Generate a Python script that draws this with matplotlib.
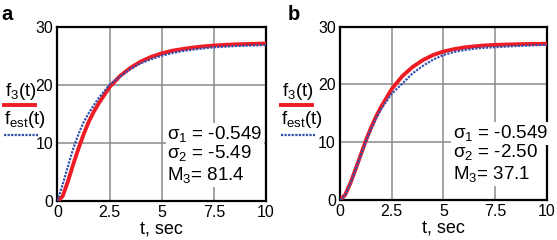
import matplotlib
matplotlib.use('Agg')
import matplotlib.pyplot as plt
from matplotlib.lines import Line2D

plt.rcParams['font.family'] = ['Liberation Sans', 'DejaVu Sans']
plt.rcParams['mathtext.fontset'] = 'custom'
plt.rcParams['mathtext.rm'] = 'Liberation Sans'

# time samples
t = [0, 0.25, 0.5, 0.75, 1.0, 1.25, 1.5, 1.75, 2.0, 2.5, 3.0, 3.5, 4.0, 4.5,
     5.0, 5.5, 6.0, 6.5, 7.0, 7.5, 8.0, 8.5, 9.0, 9.5, 10.0]

# panel a
f3_a = [0, 0.8, 3.3, 6.2, 8.9, 11.4, 13.6, 15.4, 16.9, 19.6, 21.5, 22.9, 24.0,
        24.8, 25.4, 25.85, 26.15, 26.4, 26.6, 26.75, 26.85, 26.95, 27.0, 27.05, 27.1]
fest_a = [0, 2.8, 5.9, 8.9, 11.4, 13.5, 15.1, 16.5, 17.8, 20.0, 21.4, 22.7, 23.7,
          24.4, 25.0, 25.45, 25.8, 26.05, 26.25, 26.45, 26.55, 26.65, 26.72, 26.78, 26.85]

# panel b
f3_b = [0, 0.9, 2.9, 5.3, 7.8, 10.3, 12.5, 14.5, 16.2, 19.2, 21.4, 23.0, 24.2,
        25.1, 25.7, 26.1, 26.4, 26.6, 26.75, 26.85, 26.9, 26.95, 27.0, 27.02, 27.05]
fest_b = [0, 0.8, 2.8, 5.2, 7.7, 10.1, 12.3, 14.2, 15.8, 18.4, 20.1, 21.9, 23.2,
          24.3, 25.1, 25.6, 25.95, 26.2, 26.35, 26.45, 26.55, 26.65, 26.72, 26.8, 26.85]

params_a = ['-0.549', '-5.49', '81.4']
params_b = ['-0.549', '-2.50', '37.1']

xticks = [0, 2.5, 5, 7.5, 10]
xticklabels = ['0', '2.5', '5', '7.5', '10']
yticks = [0, 10, 20, 30]

red = '#ee1c24'
blue = '#3050b0'

fig = plt.figure(figsize=(5.57, 2.40), dpi=100)

panels = [
    ([0.1030, 0.1625, 0.3745, 0.7265], f3_a, fest_a, params_a, 'a', 0.527, 0.0, 1),
    ([0.6104, 0.1667, 0.3716, 0.7222], f3_b, fest_b, params_b, 'b', 0.544, 277 / 557, 288),
]

for rect, f3, fest, pars, letter, tx, xoff, letter_x in panels:
    ax = fig.add_axes(rect)
    ax.plot(t, f3, color=red, linewidth=2.8, solid_capstyle='round', zorder=3)
    ax.plot(t, fest, color=blue, linewidth=1.6, linestyle=(0, (1, 0.6)), zorder=4)
    ax.set_xlim(0, 10)
    ax.set_ylim(0, 30)
    ax.set_xticks(xticks)
    ax.set_xticklabels(xticklabels)
    ax.set_yticks(yticks)
    ax.tick_params(length=0, labelsize=11.5, pad=3)
    ax.grid(True, color='#8a8a8a', linewidth=1.1)
    ax.set_axisbelow(True)
    for s in ax.spines.values():
        s.set_linewidth(1.6)
    ax.set_xlabel('t, sec', fontsize=13, labelpad=0)

    box = dict(facecolor='white', edgecolor='none', pad=1.0)
    ax.text(tx, 0.382, r'σ$_{\mathrm{1}}$ = ' + pars[0], transform=ax.transAxes,
            fontsize=13.5, va='center', ha='left', bbox=box, zorder=5)
    ax.text(tx, 0.27, r'σ$_{\mathrm{2}}$ = ' + pars[1], transform=ax.transAxes,
            fontsize=13.5, va='center', ha='left', bbox=box, zorder=5)
    ax.text(tx, 0.145, r'M$_{\mathrm{3}}$= ' + pars[2], transform=ax.transAxes,
            fontsize=13.5, va='center', ha='left', bbox=box, zorder=5)

    # panel letter and left-side legend
    fig.text(letter_x / 557, 1 - 14 / 240, letter, fontsize=14.5, fontweight='bold',
             va='center', ha='left')
    fig.text(xoff + 5 / 557, 1 - 91 / 240, r'f$_{\mathrm{3}}$(t)', fontsize=13.5,
             va='center', ha='left')
    fig.add_artist(Line2D([xoff + 4 / 557, xoff + 35 / 557], [1 - 105 / 240] * 2,
                          color=red, linewidth=2.8))
    fig.text(xoff + 4 / 557, 1 - 120 / 240, r'f$_{\mathrm{est}}$(t)', fontsize=13.5,
             va='center', ha='left')
    fig.add_artist(Line2D([xoff + 4 / 557, xoff + 38 / 557], [1 - 135 / 240] * 2,
                          color=blue, linewidth=1.6, linestyle=(0, (1, 0.6))))

plt.savefig('out.png', dpi=100)
